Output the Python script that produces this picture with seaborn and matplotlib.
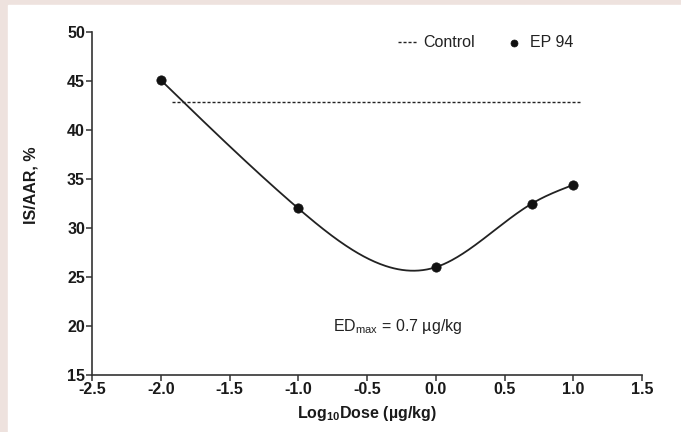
import numpy as np
import pandas as pd
import matplotlib
matplotlib.use('Agg')
import matplotlib.pyplot as plt
import seaborn as sns

# data
log_dose = [-2.0, -1.0, 0.0, 0.7, 1.0]
is_aar = [45.1, 32.0, 26.0, 32.5, 34.4]
control_x = [-1.92, 1.05]
control_y = [42.9, 42.9]
x_ticks = [-2.5, -2.0, -1.5, -1.0, -0.5, 0.0, 0.5, 1.0, 1.5]
y_ticks = [15, 20, 25, 30, 35, 40, 45, 50]


def natural_spline(x, y, n_out=300):
    # natural cubic spline through the measured points (the smooth fit line)
    x = np.asarray(x, float)
    y = np.asarray(y, float)
    n = len(x)
    h = np.diff(x)
    A = np.zeros((n, n))
    rhs = np.zeros(n)
    A[0, 0] = A[-1, -1] = 1
    for i in range(1, n - 1):
        A[i, i - 1] = h[i - 1]
        A[i, i] = 2 * (h[i - 1] + h[i])
        A[i, i + 1] = h[i]
        rhs[i] = 3 * ((y[i + 1] - y[i]) / h[i] - (y[i] - y[i - 1]) / h[i - 1])
    c = np.linalg.solve(A, rhs)
    xs = np.linspace(x[0], x[-1], n_out)
    ys = np.empty_like(xs)
    for k, xv in enumerate(xs):
        i = min(np.searchsorted(x, xv, side='right') - 1, n - 2)
        b = (y[i + 1] - y[i]) / h[i] - h[i] * (2 * c[i] + c[i + 1]) / 3
        d = (c[i + 1] - c[i]) / (3 * h[i])
        t = xv - x[i]
        ys[k] = y[i] + b * t + c[i] * t ** 2 + d * t ** 3
    return xs, ys


sns.set_style('ticks')
plt.rcParams['font.family'] = ['Liberation Sans', 'DejaVu Sans']
plt.rcParams['mathtext.default'] = 'regular'

fig = plt.figure(figsize=(6.81, 4.32), dpi=100, facecolor='#eee2de')
# white panel inside the pink frame
fig.patches.append(plt.Rectangle((8 / 681, 0), 1, 1 - 5 / 432,
                                 transform=fig.transFigure, color='white', zorder=-10))
ax = fig.add_axes([92 / 681, 1 - 375 / 432, 550 / 681, 343 / 432])
ax.set_zorder(2)
ax.set_facecolor('white')

xs, ys = natural_spline(log_dose, is_aar)
fit = pd.DataFrame({'x': xs, 'y': ys})
pts = pd.DataFrame({'x': log_dose, 'y': is_aar})

ax.plot(control_x, control_y, color='#222222', lw=1.0,
        linestyle=(0, (2.2, 1.4)), label='Control')
sns.lineplot(data=fit, x='x', y='y', ax=ax, color='#222222', lw=1.3,
             sort=False, estimator=None, legend=False)
sns.scatterplot(data=pts, x='x', y='y', ax=ax, color='#111111', s=45,
                edgecolor='#111111', linewidth=0.5, label='EP 94', zorder=5)

ax.set_xlim(-2.5, 1.5)
ax.set_ylim(15, 50)
ax.set_xticks(x_ticks)
ax.set_xticklabels([f'{v:.1f}' for v in x_ticks])
ax.set_yticks(y_ticks)
sns.despine(ax=ax)
for s in ['left', 'bottom']:
    ax.spines[s].set_linewidth(1.2)
    ax.spines[s].set_color('#333333')
ax.tick_params(direction='out', length=4, width=1.1, color='#333333',
               labelsize=11.5, pad=1)
for lab in ax.get_xticklabels() + ax.get_yticklabels():
    lab.set_fontweight('bold')
    lab.set_color('#1a1a1a')

ax.set_xlabel('Log$_{10}$Dose (µg/kg)', fontsize=11.5, fontweight='bold',
              color='#1a1a1a', labelpad=5)
ax.set_ylabel('IS/AAR, %', fontsize=11.5, fontweight='bold', color='#1a1a1a')
ax.yaxis.set_label_coords(-0.098, 0.554)

ax.text(-0.28, 20, 'ED$_{max}$ = 0.7 µg/kg', ha='center', va='center',
        fontsize=11.5, color='#222222')

leg = ax.legend(loc='center right', bbox_to_anchor=(0.886, 0.968), ncol=2,
                frameon=False, handlelength=1.2, handletextpad=0.35,
                columnspacing=1.9, fontsize=11.5, borderaxespad=0,
                markerscale=0.75)
for t in leg.get_texts():
    t.set_color('#222222')

fig.savefig('out.png', dpi=100, facecolor=fig.get_facecolor())
